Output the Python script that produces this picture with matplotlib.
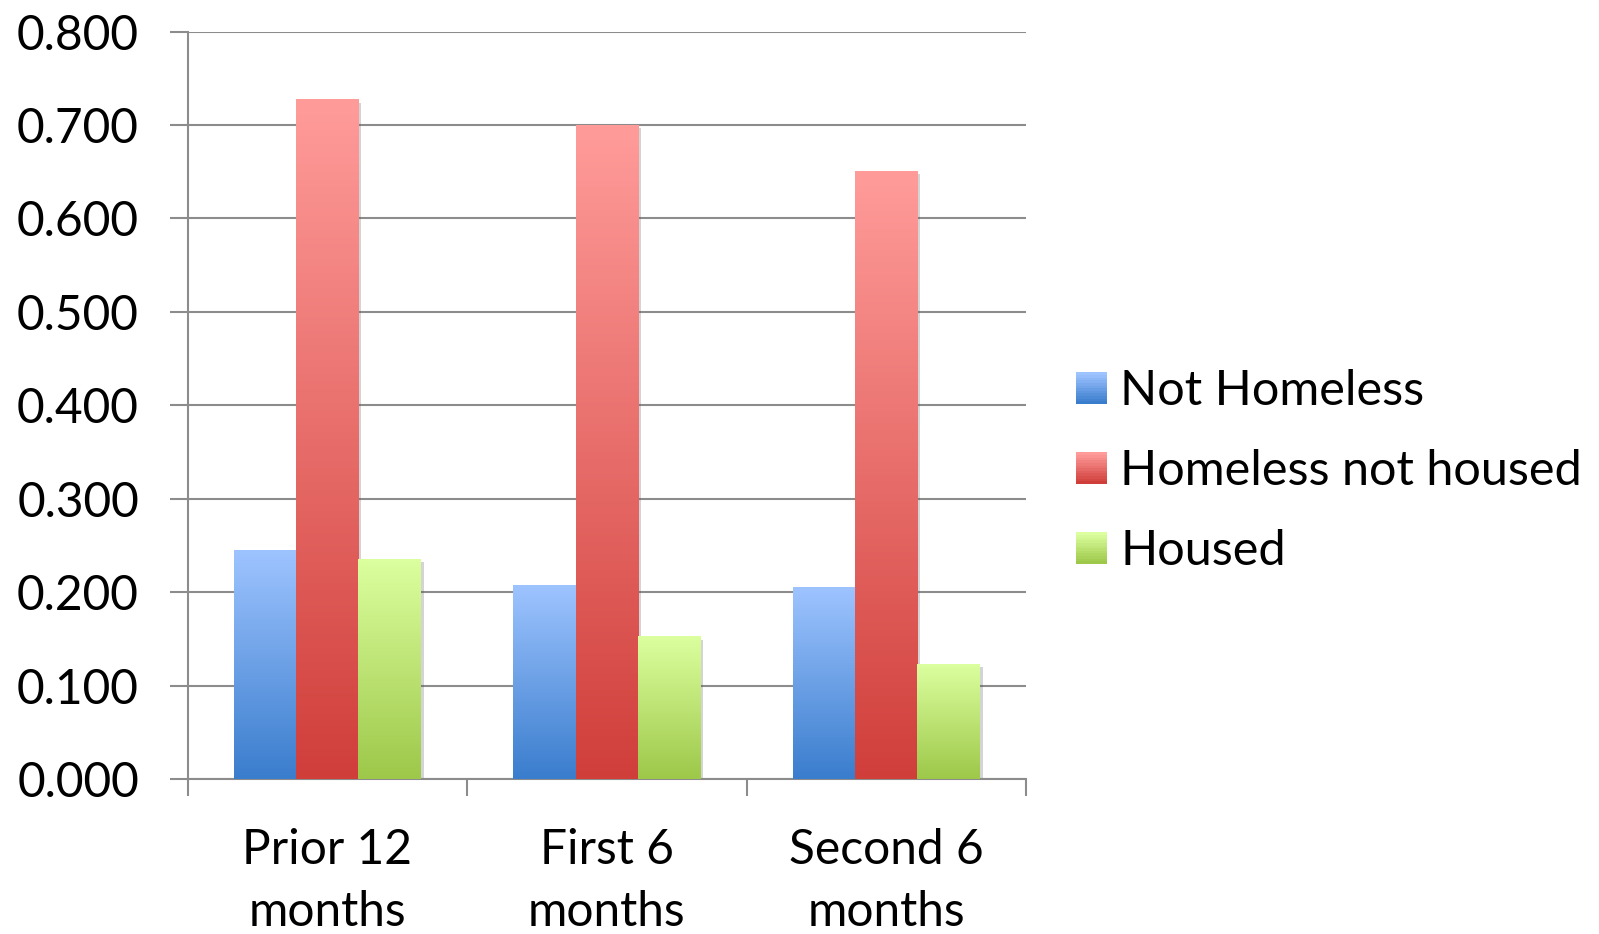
import numpy as np
import matplotlib
matplotlib.use("Agg")
import matplotlib.pyplot as plt
from matplotlib.colors import LinearSegmentedColormap, to_rgb
from matplotlib.patches import Rectangle
from matplotlib.legend_handler import HandlerBase
import matplotlib.patheffects as pe

plt.rcParams['font.family'] = ['Lato', 'DejaVu Sans']

categories = ['Prior 12\nmonths', 'First 6\nmonths', 'Second 6\nmonths']
series = ['Not Homeless', 'Homeless not housed', 'Housed']
not_homeless = [0.245, 0.207, 0.205]
homeless_not_housed = [0.727, 0.700, 0.650]
housed = [0.235, 0.152, 0.123]
yticks = [0.0, 0.1, 0.2, 0.3, 0.4, 0.5, 0.6, 0.7, 0.8]

# (top colour, bottom colour) for each series gradient
grads = [('#9ec4ff', '#3a7dcd'), ('#ff9c9a', '#d03e3a'), ('#dcff9f', '#9dc849')]


class GradHandler(HandlerBase):
    # legend swatch: small square with the same vertical gradient as the bars
    def __init__(self, top, bottom):
        super().__init__()
        self.top, self.bottom = top, bottom

    def create_artists(self, legend, orig, xd, yd, width, height, fontsize, trans):
        arts = []
        n = 12
        side = height * 0.92
        x0 = xd
        y0 = yd + (height - side) / 2
        c0 = np.array(to_rgb(self.bottom))
        c1 = np.array(to_rgb(self.top))
        for k in range(n):
            c = c0 + (c1 - c0) * k / (n - 1)
            r = Rectangle((x0, y0 + side * k / n), side, side / n + 0.3,
                          facecolor=c, edgecolor='none', transform=trans)
            arts.append(r)
        return arts


fig = plt.figure(figsize=(15.99, 9.34), dpi=100)
ax = fig.add_axes([0.1173, 0.166, 0.5244, 0.8002])

x = np.arange(len(categories))
w = 0.223
values = [not_homeless, homeless_not_housed, housed]
grid_c = '#8c8c8c'

for i, vals in enumerate(values):
    cmap = LinearSegmentedColormap.from_list('g%d' % i, [grads[i][1], grads[i][0]])
    bars = ax.bar(x + (i - 1) * w, vals, w, color='none', zorder=3)
    for b in bars:
        x0, h, bw = b.get_x(), b.get_height(), b.get_width()
        # soft shadow under the bar
        ax.bar(x0 + bw / 2, h, bw, color='white', zorder=2.5,
               path_effects=[pe.SimplePatchShadow(offset=(2, -2), alpha=0.25, shadow_rgbFace='#555555')])
        grad = np.linspace(0, 1, 256).reshape(-1, 1)
        ax.imshow(grad, cmap=cmap, origin='lower', aspect='auto',
                  extent=(x0, x0 + bw, 0, h), zorder=3, interpolation='bilinear')

ax.set_xlim(-0.5, 2.5)
ax.set_ylim(0, 0.8)
ax.set_yticks(yticks)
ax.set_yticklabels(['%.3f' % v for v in yticks])
ax.yaxis.grid(True, color=grid_c, linewidth=1.5, zorder=0)
ax.set_axisbelow(True)

ax.set_xticks([-0.5, 0.5, 1.5, 2.5])
ax.set_xticklabels([])
ax.set_xticks(x, minor=True)
ax.set_xticklabels(categories, minor=True, fontsize=34.5, linespacing=1.52)
ax.tick_params(axis='x', which='minor', length=0, pad=35)
ax.tick_params(axis='x', which='major', length=12, width=1.5, color=grid_c)
ax.tick_params(axis='y', length=13, width=1.5, color=grid_c, labelsize=34.5, pad=22)

for s in ['top', 'right']:
    ax.spines[s].set_visible(False)
for s in ['left', 'bottom']:
    ax.spines[s].set_color(grid_c)
    ax.spines[s].set_linewidth(1.5)

hs = [Rectangle((0, 0), 1, 1) for _ in series]
fig.legend(hs, series, loc='center left', bbox_to_anchor=(0.6729, 0.4955),
           frameon=False, fontsize=35, handlelength=0.66, handletextpad=0.25,
           labelspacing=0.74, borderpad=0, borderaxespad=0,
           handler_map={hs[i]: GradHandler(*grads[i]) for i in range(3)})

fig.savefig('out.png', dpi=100)
